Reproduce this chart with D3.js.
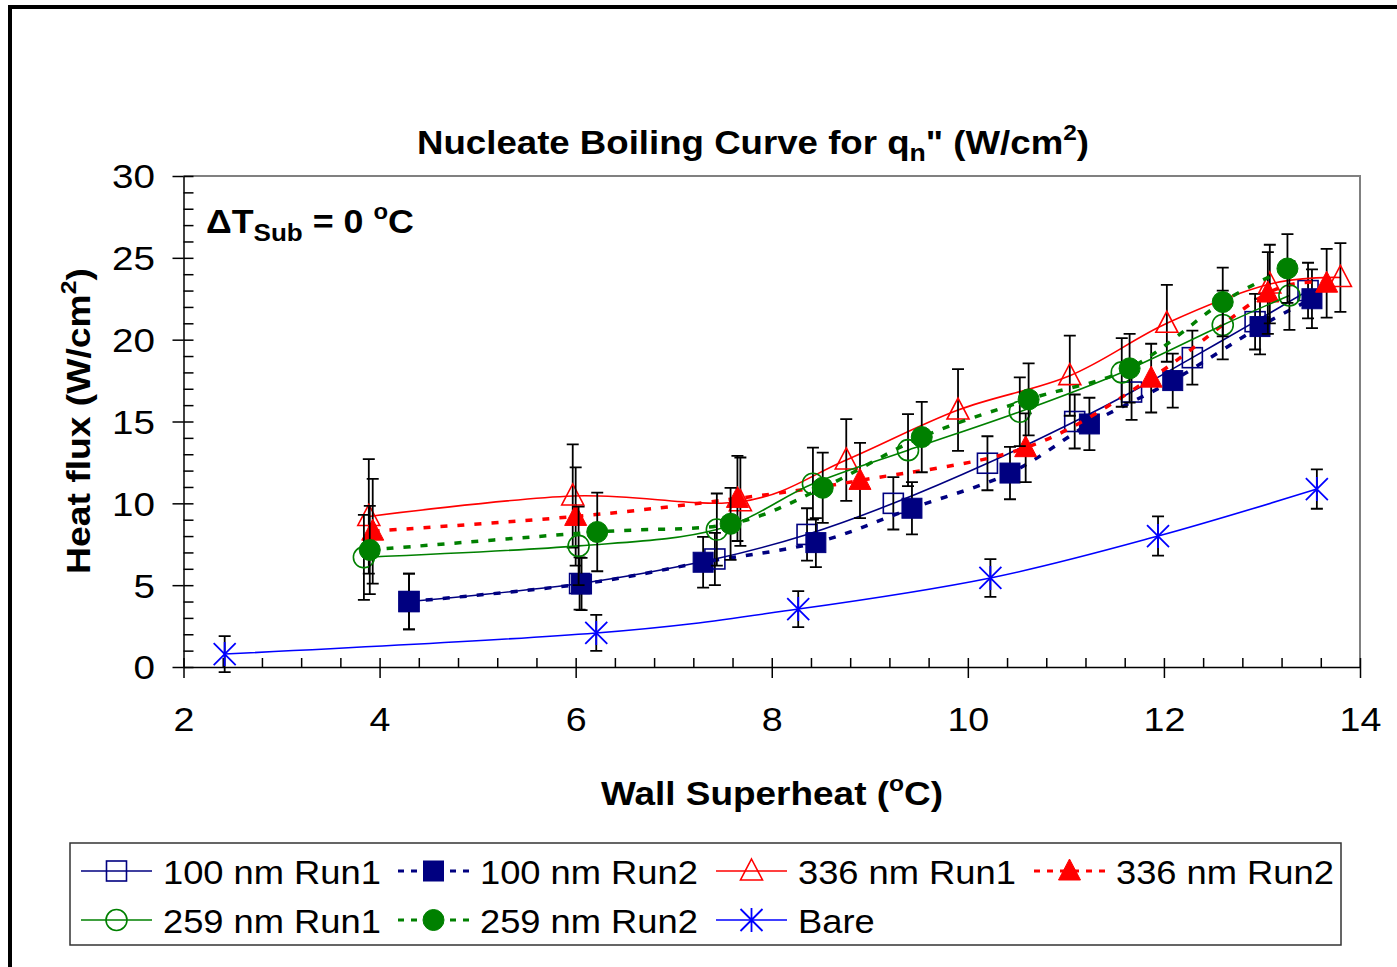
<!DOCTYPE html>
<html>
<head>
<meta charset="utf-8">
<script src="https://cdn.jsdelivr.net/npm/d3@7"></script>
<style>
  html, body { margin: 0; padding: 0; background: #fff; }
  svg { display: block; font-family: "Liberation Sans", Arial, sans-serif; }
</style>
</head>
<body>
<script>
// wall superheat (C), heat flux (W/cm2) and error bar half widths
const run100aX = [4.30, 6.04, 7.42, 8.36, 9.24, 10.20, 11.09, 11.67, 12.29, 12.93, 13.47]
const run100aY = [4.0, 5.1, 6.6, 8.1, 10.0, 12.45, 15.0, 16.8, 18.9, 21.1, 23.0]
const run100aErr = [1.7, 1.6, 1.6, 1.6, 1.6, 1.65, 1.65, 1.7, 1.65, 1.7, 1.7]

const run100bX = [4.30, 6.06, 7.30, 8.45, 9.43, 10.43, 11.24, 12.09, 12.98, 13.51]
const run100bY = [4.0, 5.07, 6.4, 7.6, 9.7, 11.85, 14.85, 17.5, 20.8, 22.5]
const run100bErr = [1.7, 1.6, 1.55, 1.5, 1.6, 1.6, 1.6, 1.65, 1.7, 1.8]

const run336aX = [3.89, 5.97, 7.68, 8.76, 9.90, 11.04, 12.03, 13.08, 13.80]
const run336aY = [9.2, 10.45, 10.1, 12.65, 15.7, 17.8, 21.0, 23.4, 23.8]
const run336aErr = [3.5, 3.15, 2.7, 2.5, 2.5, 2.45, 2.35, 2.4, 2.1]

const run336bX = [3.93, 6.00, 7.65, 8.90, 10.59, 11.87, 13.06, 13.66]
const run336bY = [8.3, 9.2, 10.3, 11.4, 13.4, 17.65, 22.85, 23.45]
const run336bErr = [3.2, 3.0, 2.6, 2.3, 2.1, 2.1, 2.5, 2.1]

const run259aX = [3.84, 6.03, 7.44, 8.42, 9.39, 10.53, 11.57, 12.60, 13.28]
const run259aY = [6.7, 7.4, 8.4, 11.2, 13.25, 15.6, 18.0, 20.9, 22.7]
const run259aErr = [2.6, 2.4, 2.2, 2.2, 2.2, 2.1, 2.1, 2.1, 2.1]

const run259bX = [3.90, 6.22, 7.58, 8.52, 9.53, 10.62, 11.65, 12.60, 13.26]
const run259bY = [7.15, 8.25, 8.75, 10.95, 14.05, 16.35, 18.25, 22.3, 24.35]
const run259bErr = [2.7, 2.4, 2.2, 2.15, 2.15, 2.2, 2.1, 2.1, 2.1]

const bareX = [2.42, 6.21, 8.27, 10.23, 11.94, 13.56]
const bareY = [0.79, 2.08, 3.54, 5.44, 8.0, 10.87]
const bareErr = [1.1, 1.1, 1.1, 1.15, 1.2, 1.2]

const xTicks = [2, 4, 6, 8, 10, 12, 14]
const yTicks = [0, 5, 10, 15, 20, 25, 30]

const series = [
  { name: '100 nm Run1', xs: run100aX, ys: run100aY, err: run100aErr, colour: '#000080', dashed: false, marker: 'squareOpen' },
  { name: '100 nm Run2', xs: run100bX, ys: run100bY, err: run100bErr, colour: '#000080', dashed: true, marker: 'square' },
  { name: '336 nm Run1', xs: run336aX, ys: run336aY, err: run336aErr, colour: '#ff0000', dashed: false, marker: 'triangleOpen' },
  { name: '336 nm Run2', xs: run336bX, ys: run336bY, err: run336bErr, colour: '#ff0000', dashed: true, marker: 'triangle' },
  { name: '259 nm Run1', xs: run259aX, ys: run259aY, err: run259aErr, colour: '#008000', dashed: false, marker: 'circleOpen' },
  { name: '259 nm Run2', xs: run259bX, ys: run259bY, err: run259bErr, colour: '#008000', dashed: true, marker: 'circle' },
  { name: 'Bare', xs: bareX, ys: bareY, err: bareErr, colour: '#0000ff', dashed: false, marker: 'star' }
]

const width = 1397
const height = 967
const margin = { top: 176, right: 37, bottom: 300, left: 183.5 }
// the original text is a little wider than Liberation Sans at the same height
const stretch = 1.12

const svg = d3.select('body').append('svg')
  .attr('width', width)
  .attr('height', height)

// outer frame (only top and left edges are in view)
svg.append('path')
  .attr('d', 'M10,967 V7 H1397')
  .attr('fill', 'none')
  .attr('stroke', '#000')
  .attr('stroke-width', 4)

const x = d3.scaleLinear()
  .domain([2, 14])
  .range([margin.left, width - margin.right])

const y = d3.scaleLinear()
  .domain([0, 30])
  .range([height - margin.bottom, margin.top])

// plot area border
svg.append('path')
  .attr('d', `M${x(2)},${y(30)} H${x(14)} V${y(0)}`)
  .attr('fill', 'none')
  .attr('stroke', '#808080')
  .attr('stroke-width', 2)

// minor ticks, inside the plot
svg.append('g')
  .attr('transform', 'translate(' + x(2) + ',0)')
  .call(d3.axisRight(y).tickValues(d3.range(0, 31, 1)).tickSize(10).tickFormat(''))
  .call(g => g.select('.domain').remove())
svg.append('g')
  .attr('transform', 'translate(0,' + y(0) + ')')
  .call(d3.axisTop(x).tickValues(d3.range(0, 31).map(i => 2 + i * 0.4)).tickSize(9).tickFormat(''))
  .call(g => g.select('.domain').remove())

const yAxis = svg.append('g')
  .attr('transform', 'translate(' + x(2) + ',0)')
  .call(d3.axisLeft(y).tickValues(yTicks).tickSize(11).tickSizeOuter(0).tickPadding(28.5 / 1.17 - 11))
yAxis.selectAll('text')
  .attr('font-size', 33)
  .attr('font-family', '"Liberation Sans", Arial, sans-serif')
  .attr('dy', '0.36em')
  .attr('transform', 'scale(1.17,1)')

const xAxis = svg.append('g')
  .attr('transform', 'translate(0,' + y(0) + ')')
  .call(d3.axisBottom(x).tickValues(xTicks).tickSize(11).tickSizeOuter(0).tickPadding(30))
xAxis.selectAll('text')
  .attr('font-size', 33)
  .attr('font-family', '"Liberation Sans", Arial, sans-serif')
  .attr('transform', 'scale(1.14,1)')

svg.selectAll('.tick line, .domain')
  .attr('stroke', '#000')
  .attr('stroke-width', 1.5)

const addText = (tx, ty, k, rotate) => svg.append('text')
  .attr('transform', `translate(${tx},${ty})` + (rotate ? ` rotate(${rotate})` : '') + ` scale(${k},1)`)
  .attr('font-size', 33)

// titles
const title = addText(753, 154, 1.11)
  .attr('text-anchor', 'middle')
  .attr('font-weight', 'bold')
title.append('tspan').text('Nucleate Boiling Curve for q')
title.append('tspan').text('n').attr('font-size', 24).attr('dy', 7)
title.append('tspan').text('" (W/cm').attr('dy', -7)
title.append('tspan').text('2').attr('font-size', 22).attr('dy', -14)
title.append('tspan').text(')').attr('dy', 14)

const xLabel = addText(772, 805, stretch)
  .attr('text-anchor', 'middle')
  .attr('font-weight', 'bold')
xLabel.append('tspan').text('Wall Superheat (')
xLabel.append('tspan').text('o').attr('font-size', 22).attr('dy', -14)
xLabel.append('tspan').text('C)').attr('dy', 14)

const yLabel = addText(90, 421, 1.13, -90)
  .attr('text-anchor', 'middle')
  .attr('font-weight', 'bold')
yLabel.append('tspan').text('Heat flux (W/cm')
yLabel.append('tspan').text('2').attr('font-size', 22).attr('dy', -14)
yLabel.append('tspan').text(')').attr('dy', 14)

const note = addText(206, 233, 1.085)
  .attr('font-weight', 'bold')
note.append('tspan').text('\u0394T')
note.append('tspan').text('Sub').attr('font-size', 24).attr('dy', 8)
note.append('tspan').text(' = 0 ').attr('dy', -8)
note.append('tspan').text('o').attr('font-size', 22).attr('dy', -14)
note.append('tspan').text('C').attr('dy', 14)

// markers
const drawMarker = (g, type, cx, cy, colour) => {
  const open = type.endsWith('Open')
  const fill = open ? 'none' : colour
  const sw = open ? 1.6 : 1
  if (type.startsWith('square')) {
    g.append('rect')
      .attr('x', cx - 10).attr('y', cy - 10)
      .attr('width', 20).attr('height', 20)
      .attr('fill', fill).attr('stroke', colour).attr('stroke-width', sw)
  } else if (type.startsWith('triangle')) {
    g.append('path')
      .attr('d', `M${cx},${cy - 12} L${cx + 11},${cy + 9} L${cx - 11},${cy + 9} Z`)
      .attr('fill', fill).attr('stroke', colour).attr('stroke-width', sw)
  } else if (type.startsWith('circle')) {
    g.append('circle')
      .attr('cx', cx).attr('cy', cy).attr('r', 10.5)
      .attr('fill', fill).attr('stroke', colour).attr('stroke-width', sw)
  } else if (type === 'star') {
    g.append('path')
      .attr('d', `M${cx - 11},${cy - 11} L${cx + 11},${cy + 11} M${cx + 11},${cy - 11} L${cx - 11},${cy + 11} M${cx},${cy - 12} V${cy + 12}`)
      .attr('fill', 'none').attr('stroke', colour).attr('stroke-width', 1.8)
  }
}

const line = d3.line()
  .x(d => x(d[0]))
  .y(d => y(d[1]))
  .curve(d3.curveCardinal.tension(0))

const plot = svg.append('g')

series.forEach(s => {
  const pts = s.xs.map((v, i) => [v, s.ys[i], s.err[i]])
  const g = plot.append('g')

  g.append('path')
    .datum(pts)
    .attr('d', line)
    .attr('fill', 'none')
    .attr('stroke', s.colour)
    .attr('stroke-width', s.dashed ? 3.5 : 1.6)
    .attr('stroke-dasharray', s.dashed ? '7,10' : null)

  const bars = g.append('g')
    .attr('stroke', '#000')
    .attr('stroke-width', 1.8)
  pts.forEach(p => {
    const px = x(p[0])
    const top = y(p[1] + p[2])
    const bottom = y(p[1] - p[2])
    bars.append('path')
      .attr('d', `M${px},${top} V${bottom} M${px - 6},${top} H${px + 6} M${px - 6},${bottom} H${px + 6}`)
      .attr('fill', 'none')
  })

  pts.forEach(p => drawMarker(g, s.marker, x(p[0]), y(p[1]), s.colour))
})

// legend
svg.append('rect')
  .attr('x', 70).attr('y', 843)
  .attr('width', 1271).attr('height', 102)
  .attr('fill', '#fff')
  .attr('stroke', '#333')
  .attr('stroke-width', 1.5)

const legendCols = [81, 398, 716, 1034]
const legendRows = [871, 920]

series.forEach((s, i) => {
  const col = i < 4 ? i : i - 4
  const row = i < 4 ? 0 : 1
  const lx = legendCols[col]
  const ly = legendRows[row]
  const g = svg.append('g')

  g.append('line')
    .attr('x1', lx).attr('x2', lx + 71)
    .attr('y1', ly).attr('y2', ly)
    .attr('stroke', s.colour)
    .attr('stroke-width', s.dashed ? 3 : 1.6)
    .attr('stroke-dasharray', s.dashed ? '6,7' : null)
  drawMarker(g, s.marker, lx + 35.5, ly, s.colour)

  addText(lx + 82, ly + 13, 1.1).text(s.name)
})
</script>
</body>
</html>
